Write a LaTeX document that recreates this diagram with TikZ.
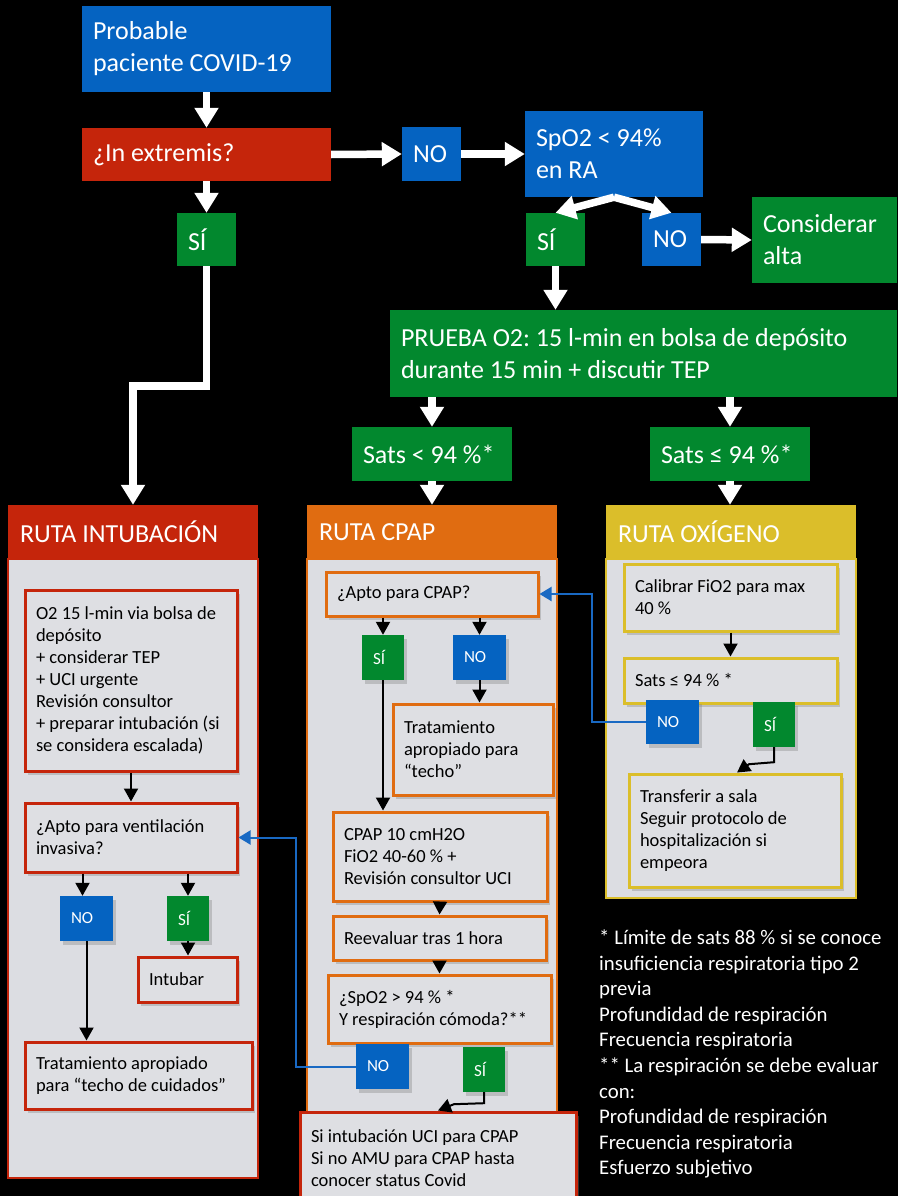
\documentclass[tikz,border=0pt]{standalone}
\usepackage{fontspec}
\setmainfont{Carlito}
\usetikzlibrary{arrows.meta,shadows,calc}
\definecolor{cblue}{RGB}{5,99,193}
\definecolor{cred}{RGB}{197,37,11}
\definecolor{cgreen}{RGB}{2,136,46}
\definecolor{corange}{RGB}{224,108,17}
\definecolor{cyellow}{RGB}{219,190,42}
\definecolor{cpanel}{RGB}{220,221,226}
\definecolor{cbox}{RGB}{222,223,227}
\definecolor{cline}{RGB}{25,105,195}
\newcommand\myBigFont{\fontsize{26}{32}\selectfont}
\newcommand\mySmallFont{\fontsize{18.5}{22}\selectfont}
\newcommand\myLabelFont{\fontsize{17}{20}\selectfont}
\newcommand\myNoteFont{\fontsize{20.8}{25.6}\selectfont}
\begin{document}
\begin{tikzpicture}[x=1pt,y=-1pt,
  every node/.append style={execute at begin node={\spaceskip=0pt\xspaceskip=0pt\frenchspacing}},
  bx/.style={rectangle, inner xsep=11pt, inner ysep=0pt, align=left, anchor=center},
  flow/.style={bx, text=white, font=\myBigFont},
  hdr/.style={bx, text=white, font=\myBigFont, inner xsep=12pt},
  panel/.style={rectangle, fill=cpanel, line width=2pt, inner sep=0pt},
  shad/.style={drop shadow={shadow xshift=3pt, shadow yshift=-4pt, opacity=0.35}},
  ibox/.style={bx, shad, fill=cbox, line width=3pt, text=black, font=\mySmallFont},
  lbl/.style={bx, shad, text=white, font=\myLabelFont, minimum height=45pt},
  warrow/.style={white, line width=7.5pt, -{Triangle[width=23pt,length=20pt]}},
  barrow/.style={black, line width=2pt, -{Triangle[width=14pt,length=13pt]}},
  blarrow/.style={cline, line width=2pt, -{Triangle[width=14pt,length=12pt]}}
]
\path[use as bounding box] (0,0) rectangle (898,1196);
\fill[black] (0,0) rectangle (898,1196);
\clip (0,0) rectangle (898,1196);

% ---------- top flow ----------
\node[flow, fill=cblue, minimum width=249pt, minimum height=86pt, text width=227pt] (prob) at (206.5,49) {Probable\\paciente COVID-19};
\node[flow, fill=cred, minimum width=249pt, minimum height=53pt, text width=227pt] (ext) at (206.5,154.5) {¿In extremis?};
\node[flow, fill=cblue, minimum width=59pt, minimum height=54pt, text width=37pt] (no1) at (431.5,154) {NO};
\node[flow, fill=cblue, minimum width=178pt, minimum height=86pt, text width=156pt] (spo) at (614,154) {SpO2 < 94\%\\en RA};
\node[flow, fill=cgreen, minimum width=59pt, minimum height=53pt, text width=37pt] (si1) at (206.5,239.5) {SÍ};
\node[flow, fill=cgreen, minimum width=59pt, minimum height=53pt, text width=37pt] (si2) at (555.5,239.5) {SÍ};
\node[flow, fill=cblue, minimum width=59pt, minimum height=53pt, text width=37pt] (no2) at (671.5,239.5) {NO};
\node[flow, fill=cgreen, minimum width=145pt, minimum height=86pt, text width=123pt] (alta) at (824.5,240) {Considerar\\alta};
\node[flow, fill=cgreen, minimum width=507pt, minimum height=87pt, text width=485pt] (prueba) at (643.5,353.5) {PRUEBA O2: 15 l-min en bolsa de depósito\\durante 15 min + discutir TEP};
\node[flow, fill=cgreen, minimum width=160pt, minimum height=54pt, text width=138pt] (satsA) at (432,454) {Sats < 94 \%*};
\node[flow, fill=cgreen, minimum width=160pt, minimum height=54pt, text width=138pt] (satsB) at (730,454) {Sats ≤ 94 \%*};

% ---------- panels and headers ----------
\node[panel, draw=cred, minimum width=250pt, minimum height=619pt] (pi) at (133,868.5) {};
\node[panel, draw=corange, minimum width=250pt, minimum height=640pt] (pc) at (432,879) {};
\node[panel, draw=cyellow, minimum width=250pt, minimum height=339pt] (po) at (731,728.5) {};
\node[hdr, fill=cred, minimum width=250pt, minimum height=54pt, text width=226pt] (hi) at (133,532) {RUTA INTUBACIÓN};
\node[hdr, fill=corange, minimum width=250pt, minimum height=54pt, text width=226pt] (hc) at (432,532) {RUTA CPAP};
\node[hdr, fill=cyellow, minimum width=250pt, minimum height=54pt, text width=226pt] (ho) at (731,532) {RUTA OXÍGENO};

% ---------- white arrows ----------
\draw[warrow] (prob.south) -- (ext.north);
\draw[warrow] (ext.east) -- (no1.west);
\draw[warrow] (no1.east) -- (spo.west);
\draw[warrow] (ext.south) -- (si1.north);
\draw[warrow] (spo.south) -- (si2.north);
\draw[warrow] (spo.south) -- (no2.north);
\draw[warrow] (no2.east) -- (alta.west);
\draw[warrow] (si2.south) -- (si2.south |- prueba.north);
\draw[warrow] (satsA.north |- prueba.south) -- (satsA.north);
\draw[warrow] (satsB.north |- prueba.south) -- (satsB.north);
\draw[warrow] (satsA.south) -- (hc.north);
\draw[warrow] (satsB.south) -- (satsB.south |- ho.north);
\draw[warrow] (si1.south) -- ++(0,120) -| (hi.north);

% ---------- intubation route ----------
\node[ibox, draw=cred, minimum width=212pt, minimum height=181pt, text width=190pt] (i1) at (131,680.5) {O2 15 l-min via bolsa de\\depósito\\+ considerar TEP\\+ UCI urgente\\Revisión consultor\\+ preparar intubación (si\\se considera escalada)};
\node[ibox, draw=cred, minimum width=212pt, minimum height=69pt, text width=190pt] (i2) at (131,837.5) {¿Apto para ventilación\\invasiva?};
\node[ibox, draw=cred, minimum width=99pt, minimum height=45pt, text width=77pt] (intubar) at (187.5,979.5) {Intubar};
\node[ibox, draw=cred, minimum width=227pt, minimum height=67pt, text width=205pt] (trati) at (138.5,1075.5) {Tratamiento apropiado\\para “techo de cuidados”};
\node[lbl, fill=cblue, minimum width=53pt, text width=31pt] (noi) at (86.5,918.5) {NO};
\node[lbl, fill=cgreen, minimum width=42pt, text width=20pt] (sii) at (188,918.5) {SÍ};

\draw[barrow] (i1.south) -- (i2.north);
\draw[barrow] ($(i2.south -| noi.north)+(-4,0)$) -- ($(noi.north)+(-4,0)$);
\draw[barrow] (i2.south -| sii.north) -- (sii.north);
\draw[barrow] (sii.south) -- (sii.south |- intubar.north);
\draw[barrow] (noi.south) -- (noi.south |- trati.north);

% ---------- CPAP route ----------
\node[ibox, draw=corange, minimum width=212pt, minimum height=44pt, text width=190pt] (aptoc) at (432,594) {¿Apto para CPAP?};
\node[ibox, draw=corange, minimum width=160pt, minimum height=91pt, text width=138pt] (tratc) at (473,749.5) {Tratamiento\\apropiado para\\“techo”};
\node[ibox, draw=corange, minimum width=214pt, minimum height=89pt, text width=192pt] (cpap) at (440,856.5) {CPAP 10 cmH2O\\FiO2 40-60 \% +\\Revisión consultor UCI};
\node[ibox, draw=corange, minimum width=213pt, minimum height=44pt, text width=191pt] (reev) at (439.5,938) {Reevaluar tras 1 hora};
\node[ibox, draw=corange, minimum width=223pt, minimum height=68pt, text width=201pt] (spoq) at (439.5,1009) {¿SpO2 > 94 \% *\\Y respiración cómoda?**};
\node[ibox, draw=cred, minimum width=276pt, minimum height=92pt, text width=254pt] (final) at (438,1158) {Si intubación UCI para CPAP\\Si no AMU para CPAP hasta\\conocer status Covid};
\node[lbl, fill=cgreen, minimum width=42pt, text width=20pt] (sic) at (383,657.5) {SÍ};
\node[lbl, fill=cblue, minimum width=53pt, text width=31pt] (noc) at (479.5,657.5) {NO};
\node[lbl, fill=cblue, minimum width=53pt, text width=31pt] (noq) at (382.5,1066.5) {NO};
\node[lbl, fill=cgreen, minimum width=42pt, text width=20pt] (siq) at (484,1069.5) {SÍ};

\draw[barrow] (aptoc.south -| sic.north) -- (sic.north);
\draw[barrow] (aptoc.south -| noc.north) -- (noc.north);
\draw[barrow] (noc.south) -- (noc.south |- tratc.north);
\draw[barrow] (sic.south) -- (sic.south |- cpap.north);
\draw[barrow] (cpap.south) -- (reev.north);
\draw[barrow] (reev.south) -- (spoq.north);
\draw[barrow] (siq.south) -- ++(0,11) -- ++(-30,1) -- (final.north);

% ---------- oxygen route ----------
\node[ibox, draw=cyellow, minimum width=213pt, minimum height=67pt, text width=191pt] (cal) at (730.5,597.5) {Calibrar FiO2 para max\\40 \%};
\node[ibox, draw=cyellow, minimum width=213pt, minimum height=45pt, text width=191pt] (satso) at (730.5,680.5) {Sats ≤ 94 \% *};
\node[ibox, draw=cyellow, minimum width=212pt, minimum height=113pt, text width=190pt] (transf) at (735,830.5) {Transferir a sala\\Seguir protocolo de\\hospitalización si\\empeora};
\node[lbl, fill=cblue, minimum width=53pt, minimum height=44pt, text width=31pt] (noo) at (672.5,722) {NO};
\node[lbl, fill=cgreen, minimum width=42pt, text width=20pt] (sio) at (774,724.5) {SÍ};

\draw[barrow] (cal.south) -- (satso.north);
\draw[barrow] (sio.south) -- ++(0,15) -- ++(-25,2) -- ($(transf.north)+(2,0)$);

% ---------- blue loops ----------
\draw[blarrow] (noq.west) -- ++(-60,0) |- (i2.east);
\draw[blarrow] (noo.west) -- ++(-54,0) |- (aptoc.east);

% ---------- notes ----------
\node[anchor=west, inner sep=0pt, align=left, text=white, font=\myNoteFont] (nota) at (599,1054) {* Límite de sats 88 \% si se conoce\\insuficiencia respiratoria tipo 2\\previa\\Profundidad de respiración\\Frecuencia respiratoria\\** La respiración se debe evaluar\\con:\\Profundidad de respiración\\Frecuencia respiratoria\\Esfuerzo subjetivo};
\end{tikzpicture}
\end{document}
